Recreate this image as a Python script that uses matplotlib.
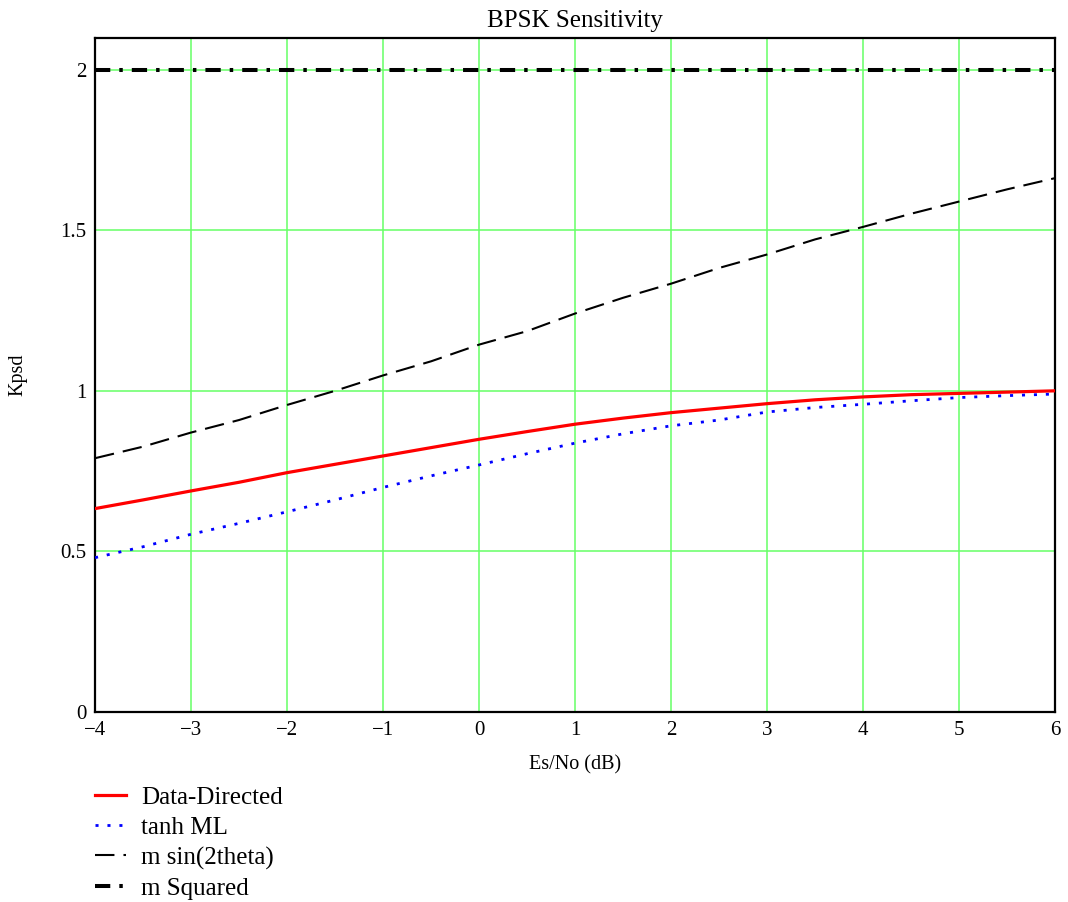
import matplotlib
matplotlib.use('Agg')
import matplotlib.pyplot as plt
import numpy as np

plt.rcParams['font.family'] = ['Liberation Serif', 'DejaVu Serif']
plt.rcParams['lines.scale_dashes'] = False

# Es/No in dB
esno = [-4, -3.5, -3, -2.5, -2, -1.5, -1, -0.5, 0, 0.5, 1, 1.5, 2, 2.5, 3, 3.5, 4, 4.5, 5, 5.5, 6]

data_directed = [0.633, 0.660, 0.688, 0.715, 0.745, 0.771, 0.797, 0.823, 0.849, 0.873, 0.896, 0.915,
                 0.932, 0.946, 0.960, 0.972, 0.981, 0.988, 0.992, 0.996, 1.000]
tanh_ml = [0.480, 0.514, 0.553, 0.587, 0.623, 0.660, 0.699, 0.735, 0.769, 0.804, 0.837, 0.866,
           0.891, 0.909, 0.934, 0.948, 0.958, 0.969, 0.979, 0.985, 0.990]
m_sin2theta = [0.790, 0.826, 0.870, 0.909, 0.956, 1.000, 1.048, 1.092, 1.144, 1.186, 1.241, 1.290,
               1.334, 1.383, 1.425, 1.472, 1.511, 1.552, 1.590, 1.628, 1.663]
m_squared = [2.0] * len(esno)

x_ticks = [-4, -3, -2, -1, 0, 1, 2, 3, 4, 5, 6]
y_ticks = [0, 0.5, 1, 1.5, 2]
y_ticklabels = ['0', '0.5', '1', '1.5', '2']

fig = plt.figure(figsize=(10.68, 9.02), dpi=100)
ax = fig.add_axes([0.089, 0.211, 0.899, 0.747])

ax.plot(esno, data_directed, color='#ff0000', lw=2.3, label='Data-Directed', zorder=4)
ax.plot(esno, tanh_ml, color='#0000ff', lw=2.0, dashes=(2.2, 6.4), label='tanh ML', zorder=4)
ax.plot(esno, m_sin2theta, color='black', lw=1.5, dashes=(14, 6.5), label='m sin(2theta)', zorder=4)
ax.plot(esno, m_squared, color='black', lw=2.9, dashes=(11, 6.5, 2.5, 6.5), label='m Squared', zorder=4)

ax.set_xlim(-4, 6)
ax.set_ylim(0, 2.1)
ax.set_xticks(x_ticks)
ax.set_yticks(y_ticks)
ax.set_yticklabels(y_ticklabels)
ax.grid(True, color='#66ff66', lw=1.1)
ax.set_axisbelow(True)
ax.tick_params(axis='x', length=0, labelsize=15, pad=7)
ax.tick_params(axis='y', length=0, labelsize=15, pad=6)
for s in ax.spines.values():
    s.set_linewidth(1.6)
    s.set_color('black')

ax.set_title('BPSK Sensitivity', fontsize=18, pad=8)
ax.set_xlabel('Es/No (dB)', fontsize=14.5, labelpad=11)
ax.set_ylabel('Kpsd', fontsize=14.5)
ax.yaxis.set_label_coords(-0.070, 0.5)

fig.legend(loc='upper left', bbox_to_anchor=(0.089, 0.128), frameon=False, fontsize=18,
           handlelength=1.25, handletextpad=0.6, labelspacing=0.3, borderpad=0, borderaxespad=0)

plt.savefig('out.png', dpi=100)
